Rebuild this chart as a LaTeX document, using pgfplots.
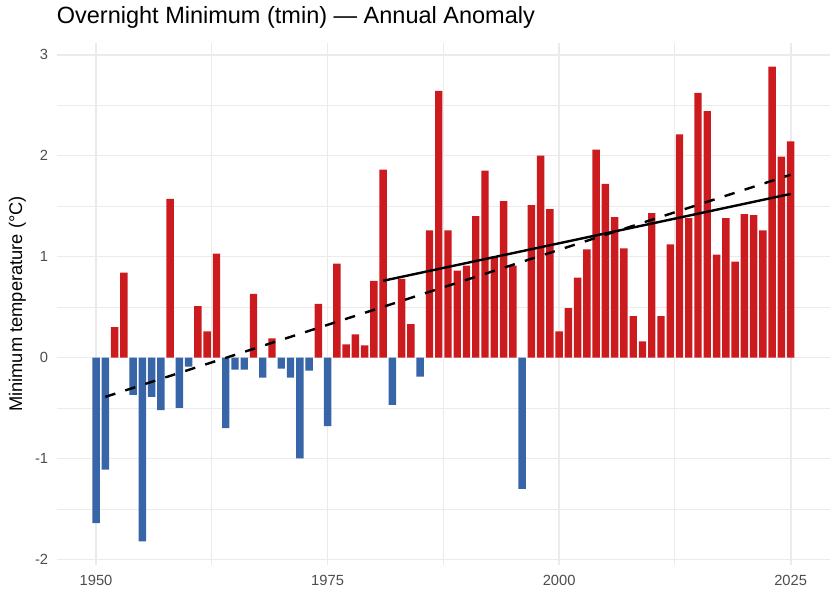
\documentclass[border=0pt]{standalone}
\usepackage{pgfplots}
\pgfplotsset{compat=1.18}
\usepackage{pgfplotstable}
\usepackage{fontspec}
\setmainfont{Liberation Sans}
\definecolor{barred}{HTML}{CB1B1F}
\definecolor{barblue}{HTML}{3864A8}
\definecolor{gridc}{HTML}{EBEBEB}
\definecolor{tickc}{HTML}{4D4D4D}

\pgfplotstableread{
year val
1952 0.30
1953 0.84
1958 1.57
1961 0.51
1962 0.26
1963 1.03
1967 0.63
1969 0.19
1974 0.53
1976 0.93
1977 0.13
1978 0.23
1979 0.12
1980 0.76
1981 1.86
1983 0.78
1984 0.33
1986 1.26
1987 2.64
1988 1.26
1989 0.86
1990 0.91
1991 1.40
1992 1.85
1993 1.00
1994 1.55
1995 0.91
1997 1.51
1998 2.00
1999 1.47
2000 0.26
2001 0.49
2002 0.79
2003 1.07
2004 2.06
2005 1.72
2006 1.39
2007 1.08
2008 0.41
2009 0.16
2010 1.43
2011 0.41
2012 1.12
2013 2.21
2014 1.38
2015 2.62
2016 2.44
2017 1.02
2018 1.38
2019 0.95
2020 1.42
2021 1.41
2022 1.26
2023 2.88
2024 1.99
2025 2.14
}\pos

\pgfplotstableread{
year val
1950 -1.64
1951 -1.11
1954 -0.37
1955 -1.82
1956 -0.39
1957 -0.52
1959 -0.50
1960 -0.09
1964 -0.70
1965 -0.12
1966 -0.12
1968 -0.20
1970 -0.11
1971 -0.20
1972 -1.00
1973 -0.13
1975 -0.68
1982 -0.47
1985 -0.19
1996 -1.30
}\neg

\begin{document}
\begin{tikzpicture}
\path[use as bounding box] (0,0) rectangle (840pt,600pt);
\begin{axis}[
  at={(56.7pt,35pt)}, anchor=south west,
  scale only axis, width=773.3pt, height=522pt,
  xmin=1945.75, xmax=2029.25,
  ymin=-2.055, ymax=3.115,
  xtick={1950,1975,2000,2025},
  xticklabels={1950,1975,2000,2025},
  ytick={-2,-1,0,1,2,3},
  yticklabels={-2,-1,0,1,2,3},
  minor x tick num=1, minor y tick num=1,
  grid=both,
  major grid style={gridc, line width=1.8pt},
  minor grid style={gridc, line width=0.9pt},
  axis line style={draw=none},
  tick style={draw=none},
  ticklabel style={font=\fontsize{14.7}{17}\selectfont, text=tickc},
  xticklabel style={yshift=-7pt},
  yticklabel style={xshift=-5pt},
  title={Overnight Minimum (tmin) — Annual Anomaly},
  title style={at={(axis description cs:0,1)}, anchor=base west, yshift=13.7pt, inner sep=0pt, font=\fontsize{23.5}{28}\selectfont},
  ylabel={Minimum temperature (°C)},
  ylabel style={at={(axis description cs:-0.0507,0.5)}, anchor=center, font=\fontsize{18.3}{22}\selectfont},
  clip=false,
]
\addplot[ybar, bar width=0.8, bar shift=0pt, fill=barred, draw=none] table[x=year, y=val] {\pos};
\addplot[ybar, bar width=0.8, bar shift=0pt, fill=barblue, draw=none] table[x=year, y=val] {\neg};
\addplot[black, line width=2.4pt, dash pattern=on 10.5pt off 10.5pt] coordinates {(1951,-0.39) (2025,1.81)};
\addplot[black, line width=2.4pt] coordinates {(1981,0.76) (2025,1.62)};
\end{axis}
\end{tikzpicture}
\end{document}
